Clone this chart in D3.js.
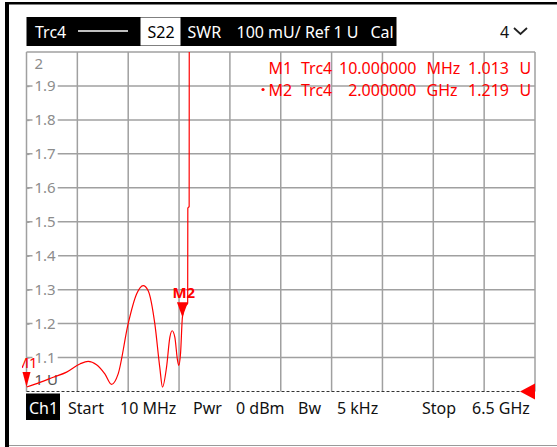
<!DOCTYPE html>
<html>
<head>
<meta charset="utf-8">
<script src="https://cdn.jsdelivr.net/npm/d3@7"></script>
<style>
  body { margin: 0; background: #fff; }
  svg { display: block; font-family: "Noto Sans", "Open Sans", sans-serif; }
</style>
</head>
<body>
<div id="chart"></div>
<script>
// trace data (frequency in MHz, SWR in U)
const freqMHz = [10, 181, 351, 522, 691, 797, 904, 1010, 1096, 1180, 1307, 1415, 1499, 1563, 1648, 1711, 1746,
                 1797, 1840, 1869, 1903, 1938, 1954, 1976, 2000, 2031, 2067, 2069, 2086, 2088];
const swr = [1.013, 1.027, 1.042, 1.057, 1.081, 1.089, 1.079, 1.052, 1.021, 1.052, 1.199, 1.287, 1.312, 1.297, 1.199, 1.071, 1.013,
             1.071, 1.16, 1.179, 1.16, 1.091, 1.077, 1.112, 1.219, 1.25, 1.26, 1.54, 1.545, 2.3];

const yTicks = [1, 1.1, 1.2, 1.3, 1.4, 1.5, 1.6, 1.7, 1.8, 1.9, 2];
const markers = [
  { name: 'M1', trc: 'Trc4', stim: '10.000000', unit: 'MHz', f: 10, val: 1.013 },
  { name: 'M2', trc: 'Trc4', stim: '2.000000', unit: 'GHz', f: 2000, val: 1.219 }
];
const statusItems = [
  { t: 'Start', x: 68 }, { t: '10 MHz', x: 120 }, { t: 'Pwr', x: 193 }, { t: '0 dBm', x: 236 },
  { t: 'Bw', x: 298 }, { t: '5 kHz', x: 337 }, { t: 'Stop', x: 422 }, { t: '6.5 GHz', x: 472 }
];
const startMHz = 10, stopMHz = 6500;

const W = 557, H = 447;
const plot = { left: 26.5, right: 535, top: 52, bottom: 391.5 };

const svg = d3.select('#chart').append('svg')
  .attr('width', W).attr('height', H);

// outer frame
svg.append('rect').attr('x', 5).attr('y', 2).attr('width', W - 5).attr('height', 2.5).attr('fill', '#000');
svg.append('rect').attr('x', 5).attr('y', 2).attr('width', 4).attr('height', H).attr('fill', '#000');
svg.append('line').attr('x1', 9).attr('x2', W).attr('y1', 445.5).attr('y2', 445.5)
  .attr('stroke', '#9a9a9a').attr('stroke-width', 1);

// header bar
const hdr = svg.append('g');
hdr.append('rect').attr('x', 26.5).attr('y', 17).attr('width', 370).attr('height', 29).attr('fill', '#000');
hdr.append('text').attr('x', 35).attr('y', 38).attr('fill', '#fff').attr('font-size', 16).text('Trc4');
hdr.append('line').attr('x1', 78).attr('x2', 128).attr('y1', 31).attr('y2', 31).attr('stroke', '#fff').attr('stroke-width', 1.5);
hdr.append('rect').attr('x', 140.5).attr('y', 17.5).attr('width', 40).attr('height', 28).attr('fill', '#fff');
hdr.append('text').attr('x', 147.5).attr('y', 38).attr('fill', '#000').attr('font-size', 16).text('S22');
hdr.append('text').attr('x', 187.5).attr('y', 38).attr('fill', '#fff').attr('font-size', 16).text('SWR');
hdr.append('text').attr('x', 236.5).attr('y', 38).attr('fill', '#fff').attr('font-size', 16).text('100 mU/ Ref 1 U');
hdr.append('text').attr('x', 370.5).attr('y', 38).attr('fill', '#fff').attr('font-size', 16).text('Cal');
hdr.append('text').attr('x', 500).attr('y', 38).attr('fill', '#111').attr('font-size', 16).text('4');
hdr.append('path').attr('d', 'M514,28 L520.5,34 L527,28').attr('fill', 'none').attr('stroke', '#222').attr('stroke-width', 1.8);

// scales
const x = d3.scaleLinear().domain([startMHz, stopMHz]).range([plot.left, plot.right]);
const y = d3.scaleLinear().domain([1, 2]).range([plot.bottom, plot.top]);

// grid
const grid = svg.append('g');
grid.selectAll('.vgrid')
  .data(d3.range(11).map(i => startMHz + i * (stopMHz - startMHz) / 10))
  .join('line').attr('class', 'vgrid')
  .attr('x1', d => x(d)).attr('x2', d => x(d))
  .attr('y1', plot.top).attr('y2', plot.bottom)
  .attr('stroke', '#a0a0a0').attr('stroke-width', 1.5);
grid.selectAll('.hgrid')
  .data(yTicks.slice(1))
  .join('line').attr('class', 'hgrid')
  .attr('x1', plot.left).attr('x2', plot.right)
  .attr('y1', d => y(d)).attr('y2', d => y(d))
  .attr('stroke', '#a0a0a0').attr('stroke-width', 1.5);

// reference line (1 U)
svg.append('line')
  .attr('x1', plot.left).attr('x2', 521).attr('y1', y(1)).attr('y2', y(1))
  .attr('stroke', '#333').attr('stroke-width', 1).attr('stroke-dasharray', '3,2');
svg.append('path')
  .attr('d', `M${plot.right},${y(1) - 8} L${plot.right - 15},${y(1)} L${plot.right},${y(1) + 8} Z`)
  .attr('fill', '#ff0000');

// y axis labels inside the plot
const yAxis = d3.axisRight(y).tickValues(yTicks).tickSize(3).tickPadding(5)
  .tickFormat(d => d === 1 ? '1 U' : d3.format('.1~f')(d));
const ax = svg.append('g').attr('transform', `translate(${plot.left},0)`).call(yAxis);
ax.select('.domain').remove();
ax.selectAll('.tick line').attr('stroke', '#a0a0a0').attr('stroke-width', 1.5);
ax.selectAll('.tick text')
  .attr('font-size', 15).attr('font-family', '"Noto Sans", sans-serif')
  .attr('fill', d => d === 1 ? '#555' : '#8c8c8c')
  .attr('dy', d => d === 2 ? '1.1em' : d === 1 ? '-0.45em' : '0.32em');
ax.selectAll('.tick').filter(d => d === 1 || d === 2).select('line').remove();
ax.selectAll('.tick').each(function (d) {
  if (d === 1 || d === 2) return;
  const t = d3.select(this);
  const bb = t.select('text').node().getBBox();
  t.insert('rect', 'text').attr('x', bb.x - 2).attr('y', bb.y).attr('width', bb.width + 4).attr('height', bb.height).attr('fill', '#fff');
});

// trace
svg.append('clipPath').attr('id', 'clip').append('rect')
  .attr('x', plot.left).attr('y', plot.top).attr('width', plot.right - plot.left).attr('height', plot.bottom - plot.top + 1);
svg.append('clipPath').attr('id', 'clipM').append('rect')
  .attr('x', 22).attr('y', plot.top).attr('width', plot.right - 22).attr('height', plot.bottom - plot.top + 1);
const traceData = freqMHz.map((f, i) => [f, swr[i]]);
svg.append('path')
  .datum(traceData)
  .attr('clip-path', 'url(#clip)')
  .attr('fill', 'none').attr('stroke', '#ff0000').attr('stroke-width', 1.2)
  .attr('d', d3.line().x(d => x(d[0])).y(d => y(d[1])).curve(d3.curveMonotoneX));

// markers
const mk = svg.append('g').attr('clip-path', 'url(#clipM)');
markers.forEach((m, i) => {
  const mx = x(m.f), my = y(m.val);
  const hw = i === 0 ? 4 : 5.5;
  mk.append('path')
    .attr('d', `M${mx - hw},${my - 15} L${mx + hw},${my - 15} L${mx},${my} Z`)
    .attr('fill', '#ff0000');
  mk.append('text')
    .attr('x', i === 0 ? mx - 11 : mx - 10).attr('y', my - 19)
    .attr('fill', '#ff0000').attr('font-size', 15)
    .attr('font-weight', i === 0 ? 'normal' : 'bold')
    .text(m.name);
});

// marker readouts
const ro = svg.append('g').attr('fill', '#ff0000').attr('font-size', 16);
markers.forEach((m, i) => {
  const by = 73.5 + i * 22.5;
  ro.append('text').attr('x', 268.5).attr('y', by).text(m.name);
  ro.append('text').attr('x', 301).attr('y', by).text(m.trc);
  ro.append('text').attr('x', 416.5).attr('y', by).attr('text-anchor', 'end').text(m.stim);
  ro.append('text').attr('x', 426.5).attr('y', by).text(m.unit);
  ro.append('text').attr('x', 509).attr('y', by).attr('text-anchor', 'end').text(d3.format('.3f')(m.val));
  ro.append('text').attr('x', 519.5).attr('y', by).text('U');
});
ro.append('circle').attr('cx', 263).attr('cy', 89.5).attr('r', 1.6);

// status bar
const sb = svg.append('g');
sb.append('rect').attr('x', 26).attr('y', 393.5).attr('width', 34).attr('height', 26.5).attr('fill', '#000');
sb.append('text').attr('x', 29).attr('y', 413.5).attr('fill', '#fff').attr('font-size', 16).text('Ch1');
sb.selectAll('.st').data(statusItems).join('text').attr('class', 'st')
  .attr('x', d => d.x).attr('y', 413.5).attr('fill', '#111').attr('font-size', 16).text(d => d.t);
</script>
</body>
</html>
